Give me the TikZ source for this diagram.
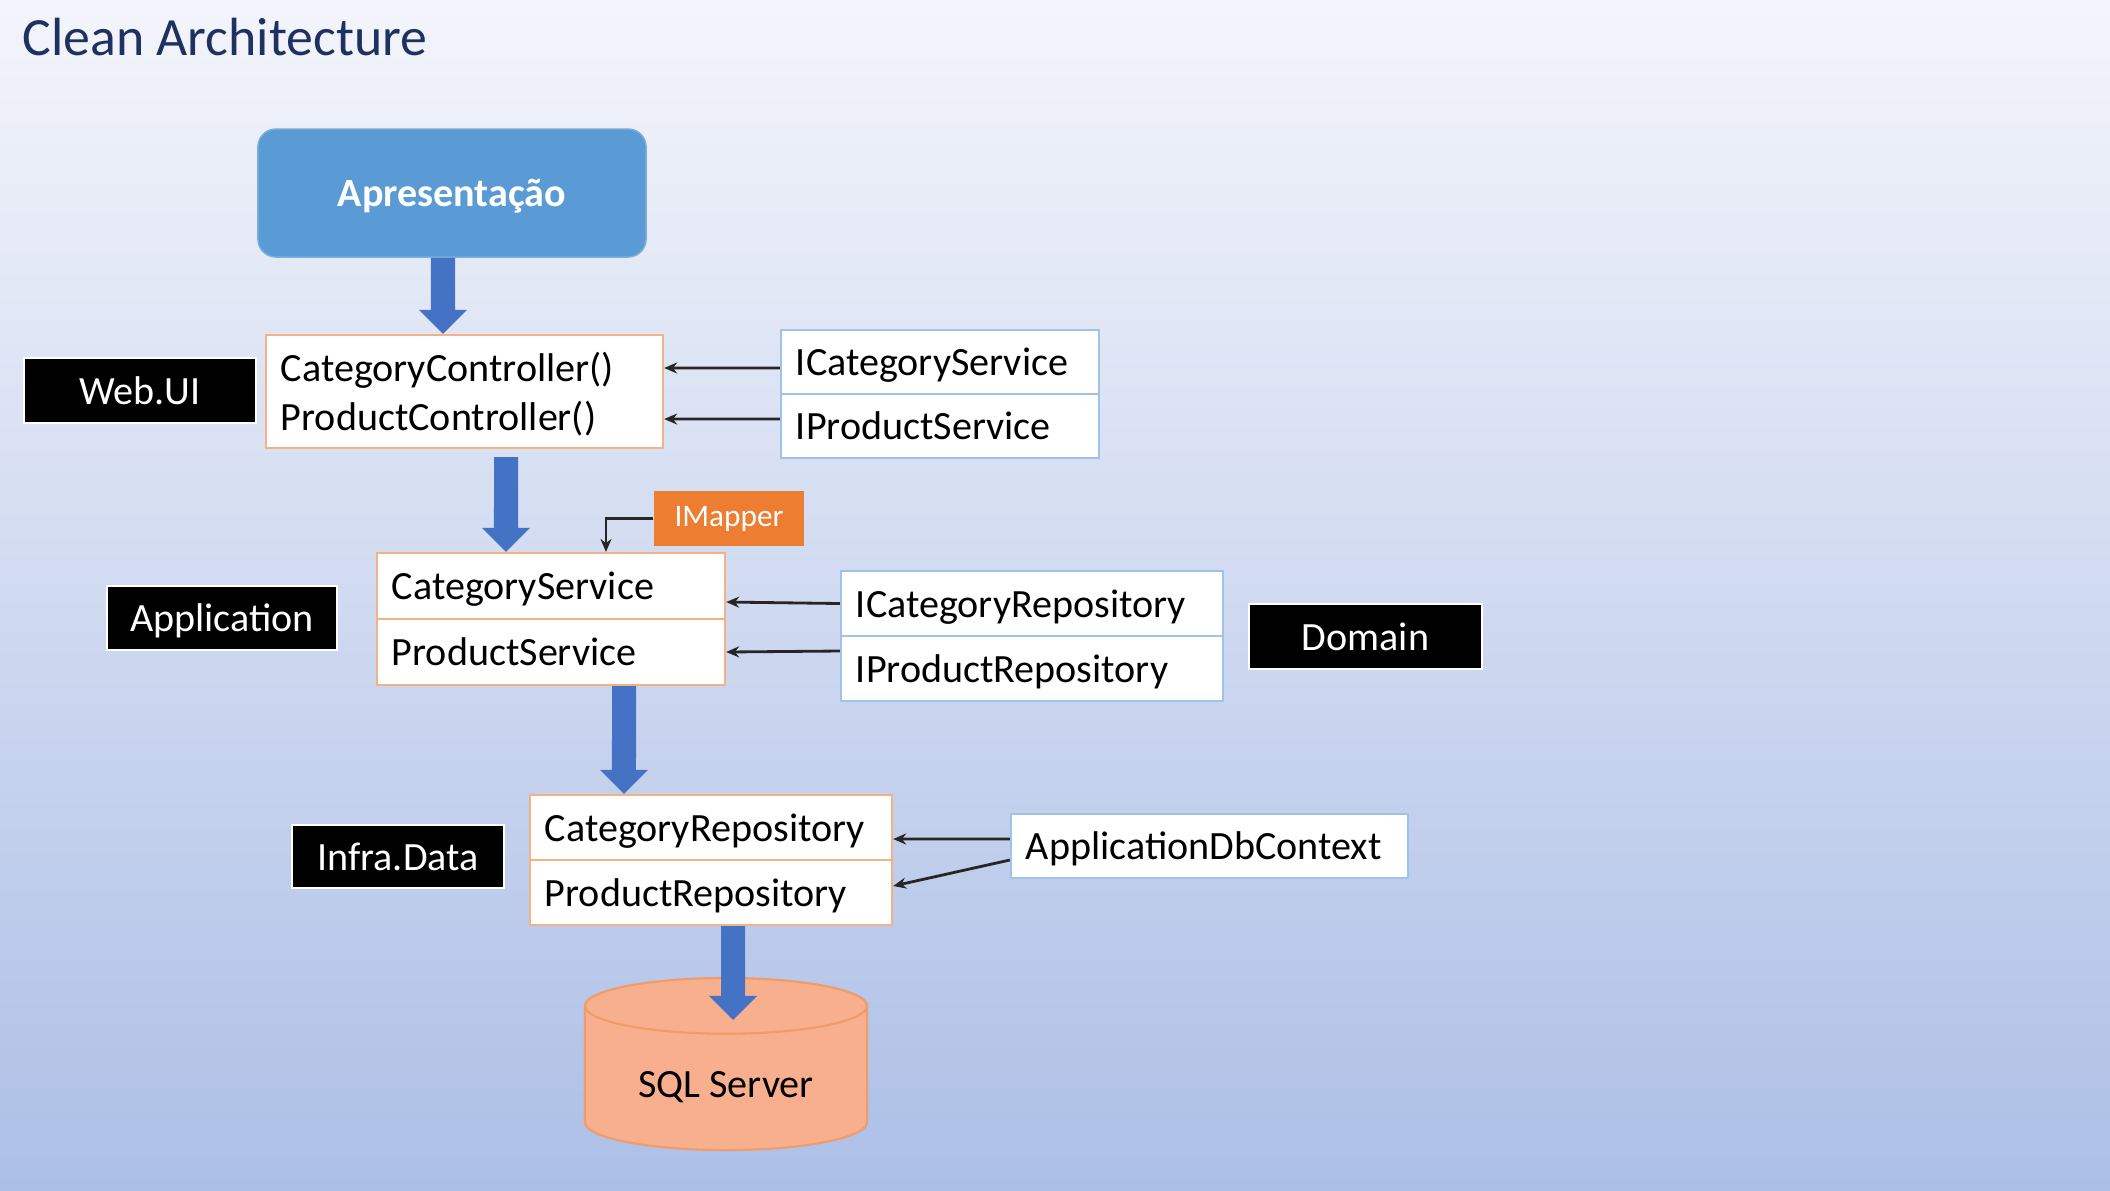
\documentclass[tikz,border=0pt]{standalone}
\usepackage{fontspec}
\setmainfont{Carlito}
\usetikzlibrary{arrows.meta,shapes.geometric}

\definecolor{bgtop}{HTML}{F4F5FB}
\definecolor{bgbottom}{HTML}{ACBFE6}
\definecolor{titleblue}{HTML}{1F3160}
\definecolor{presblue}{HTML}{5B9BD5}
\definecolor{flowblue}{HTML}{4472C4}
\definecolor{implorange}{HTML}{F4B183}
\definecolor{ifaceblue}{HTML}{9DC3E6}
\definecolor{mapperorange}{HTML}{ED7D31}
\definecolor{dbfill}{HTML}{F7AF8E}
\definecolor{dbedge}{HTML}{EF9B6A}

\begin{document}
\begin{tikzpicture}[x=0.01cm,y=-0.01cm,
  txt/.style={font=\fontsize{11.4}{13.9}\selectfont,text depth=0pt},
  layer/.style={txt,fill=black,draw=white,line width=0.5pt,text=white,inner sep=0pt},
  row/.style={txt,fill=white,line width=0.6pt,inner xsep=0.15cm,inner ysep=0pt,align=left},
  impl/.style={row,draw=implorange},
  iface/.style={row,draw=ifaceblue},
  flow/.style={draw=flowblue,line width=0.24cm,-{Triangle[length=0.24cm,width=0.48cm,line width=0pt]}},
  dep/.style={draw=black!85,line width=0.8pt,-{Stealth[length=0.13cm,width=0.11cm]}}]

\fill[top color=bgtop,bottom color=bgbottom] (0,0) rectangle (2110,1190);
\useasboundingbox (0,0) rectangle (2110,1190);

\node[anchor=base west,inner sep=0pt,text=titleblue,font=\fontsize{15.3}{18}\selectfont] (title) at (22,55) {Clean Architecture};

\node[fill=presblue,draw=presblue!80!white,rounded corners=0.18cm,minimum width=3.88cm,minimum height=1.28cm,
  text=white,text depth=0pt,font=\fontsize{11.4}{13.9}\selectfont\bfseries] (apres) at (452,193) {Apresentação};

% layers
\node[layer,minimum width=2.32cm,minimum height=0.65cm] (webui) at (140,390.5) {Web.UI};
\node[layer,minimum width=2.30cm,minimum height=0.64cm] (app) at (222,618) {Application};
\node[layer,minimum width=2.12cm,minimum height=0.63cm] (infra) at (398,856.5) {Infra.Data};
\node[layer,minimum width=2.33cm,minimum height=0.65cm] (domain) at (1365.5,636.5) {Domain};

% implementations
\node[impl,text width=3.67cm,text depth=13.9pt,minimum height=1.13cm] (ctrl) at (464.5,391.5) {CategoryController()\\ProductController()};
\node[impl,text width=3.18cm,minimum height=0.66cm] (svcA) at (551,586) {CategoryService};
\node[impl,text width=3.18cm,minimum height=0.66cm] (svcB) at (551,652) {ProductService};
\node[impl,text width=3.32cm,minimum height=0.65cm] (repoA) at (711,827.5) {CategoryRepository};
\node[impl,text width=3.32cm,minimum height=0.65cm] (repoB) at (711,892.5) {ProductRepository};

% interfaces
\node[iface,text width=2.88cm,minimum height=0.64cm] (isvcA) at (940,362) {ICategoryService};
\node[iface,text width=2.88cm,minimum height=0.64cm] (isvcB) at (940,426) {IProductService};
\node[iface,text width=3.52cm,minimum height=0.65cm] (irepoA) at (1032,603.5) {ICategoryRepository};
\node[iface,text width=3.52cm,minimum height=0.65cm] (irepoB) at (1032,668.5) {IProductRepository};
\node[iface,text width=3.67cm,minimum height=0.64cm] (dbctx) at (1209.5,846) {ApplicationDbContext};

\node[fill=mapperorange,text=white,minimum width=1.50cm,minimum height=0.55cm,inner sep=0pt,
  font=\fontsize{8.9}{10.7}\selectfont] (mapper) at (729,518.5) {IMapper};

\node[cylinder,shape border rotate=90,aspect=0.28,anchor=shape center,draw=dbedge,line width=0.6pt,fill=dbfill,
  minimum width=2.82cm,minimum height=1.72cm,txt] (sql) at (726,1064) {SQL Server};

% flow
\draw[flow] ([xshift=-0.09cm]apres.south) -- ([xshift=-0.215cm]ctrl.north);
\draw[flow] ([xshift=0.415cm,yshift=-0.08cm]ctrl.south) -- ([xshift=-0.45cm]svcA.north);
\draw[flow] ([xshift=0.73cm]svcB.south) -- ([xshift=-0.87cm]repoA.north);
\draw[flow] ([xshift=0.22cm]repoB.south) -- ([xshift=0.07cm,yshift=0.44cm]sql.shape center);

% dependencies
\draw[dep] ([yshift=-0.06cm]isvcA.west) -- ([yshift=0.235cm]ctrl.east);
\draw[dep] ([yshift=0.07cm]isvcB.west) -- ([yshift=-0.275cm]ctrl.east);
\draw[dep] (irepoA.west) -- ([yshift=-0.16cm]svcA.east);
\draw[dep] ([yshift=0.175cm]irepoB.west) -- (svcB.east);
\draw[dep] ([yshift=0.07cm]dbctx.west) -- ([yshift=-0.115cm]repoA.east);
\draw[dep] ([yshift=-0.14cm]dbctx.west) -- ([yshift=0.065cm]repoB.east);
\draw[dep] (mapper.west) -| ([xshift=2.3cm]svcA.north west);
\end{tikzpicture}
\end{document}
